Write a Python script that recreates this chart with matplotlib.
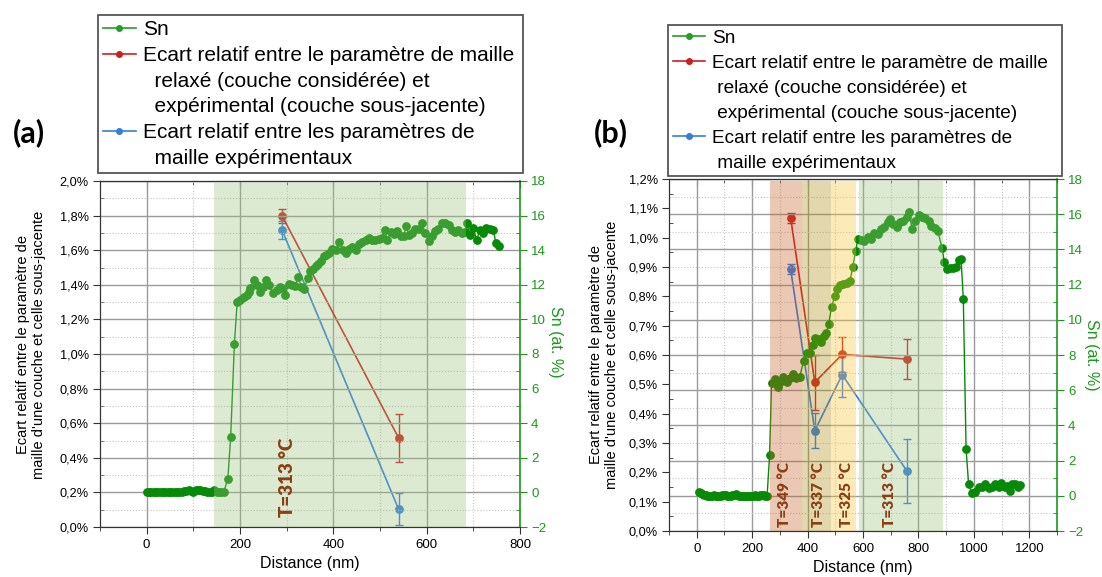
import matplotlib
matplotlib.use("Agg")
import matplotlib.pyplot as plt
from matplotlib.lines import Line2D
from matplotlib.ticker import MultipleLocator, FuncFormatter

plt.rcParams['font.family'] = ['Liberation Sans', 'DejaVu Sans']

# ---------------- data : panel (a) ----------------
sn_a_x = [0, 5, 10, 15, 20, 25, 30, 35, 40, 45, 50, 55, 60, 65, 70, 75, 80, 85,
          90, 95, 100, 105, 110, 115, 120, 125, 130, 135, 140, 145, 150, 155, 160, 165,
          174, 180, 188,
          194, 201, 208, 214, 219, 222, 229, 236, 242, 249, 256, 263, 270, 279, 286,
          291, 297, 304, 311, 318, 325, 331, 338, 345, 351, 356, 362, 368, 373, 379,
          385, 390, 397, 406, 413, 420, 427, 434, 441, 448, 455, 462, 469, 476, 483,
          490, 497, 504, 510, 516, 523, 530, 537, 544, 551, 556, 562, 569, 576, 583,
          590, 597, 604, 611, 618, 625, 633, 640, 647, 654, 661, 668, 675, 682, 686,
          693, 700, 707, 714, 721, 728, 736, 743, 748, 755]
sn_a_y = [0.02, 0.0, 0.03, 0.01, 0.02, 0.0, 0.02, 0.03, 0.01, 0.0, 0.02, 0.03, 0.02,
          0.05, 0.0, 0.03, 0.08, 0.1, 0.12, 0.1, 0.05, 0.12, 0.15, 0.12, 0.1, 0.08,
          0.05, 0.02, 0.0, 0.15, 0.05, 0.0, 0.02, 0.0,
          0.8, 3.2, 8.6,
          11.0, 11.15, 11.28, 11.43, 11.6, 11.8, 12.26, 12.0, 11.6, 11.9, 12.26, 12.0,
          11.5, 11.7, 11.9, 11.8, 11.4, 12.07, 12.0, 11.95, 12.45, 11.9, 11.76, 12.4,
          12.8, 12.9, 13.06, 13.2, 13.4, 13.67, 13.73, 13.83, 14.06, 14.0, 14.48, 14.0,
          13.83, 14.06, 14.17, 14.0, 14.36, 14.5, 14.6, 14.7, 14.6, 14.6, 14.67, 14.7,
          15.17, 14.6, 15.07, 14.94, 15.13, 14.82, 14.8, 15.4, 14.88, 15.0, 15.2, 15.2,
          15.55, 14.97, 14.55, 14.82, 15.13, 15.2, 15.6, 15.6, 15.45, 15.17, 15.07,
          15.17, 14.97, 15.07, 15.55, 14.86, 15.26, 14.6, 15.17, 15.0, 15.26, 15.2,
          15.17, 14.44, 14.25]

rel_a_x = [290, 540]
rel_a_y = [1.80, 0.514]
rel_a_err = [0.04, 0.14]
exp_a_x = [290, 540]
exp_a_y = [1.717, 0.102]
exp_a_err = [0.05, 0.093]

# ---------------- data : panel (b) ----------------
sn_b_x = [8, 14, 20, 26, 32, 38, 44, 50, 56, 62, 68, 74, 80, 86, 92, 98, 104, 110,
          116, 122, 128, 134, 140, 146, 152, 158, 164, 170, 176, 182, 188, 194, 200,
          206, 212, 218, 224, 230, 236, 242, 248, 254,
          263, 270, 281, 292, 301, 313, 325, 335, 347, 359, 371,
          386, 398, 408, 420, 428, 442, 450, 460, 468, 476, 487, 498, 507, 517, 529,
          541, 553, 563, 573, 582,
          593, 605, 617, 629, 641, 653, 665, 677, 689, 697, 709, 721, 733, 745, 757,
          767, 777, 789, 801, 813, 825, 837, 846, 858, 870, 885, 894, 902, 914, 926,
          935, 945, 954, 962,
          972, 981, 993, 1005, 1017, 1029, 1041, 1053, 1065, 1077, 1089, 1099, 1111,
          1120, 1130, 1139, 1149, 1159, 1168]
sn_b_y = [0.2, 0.15, 0.1, 0.05, 0.02, 0.0, 0.0, 0.0, 0.0, 0.02, 0.0, 0.0, 0.0, 0.0,
          0.05, 0.05, 0.02, 0.0, 0.0, 0.0, 0.02, 0.05, 0.08, 0.02, 0.0, 0.0, 0.0, 0.0,
          0.0, 0.0, 0.0, 0.0, 0.0, 0.0, 0.02, 0.0, 0.0, 0.05, 0.05, 0.02, 0.0, 0.0,
          2.32, 6.39, 6.61, 6.17, 6.49, 6.73, 6.49, 6.67, 6.92, 6.67, 6.73,
          7.67, 8.1, 8.13, 8.57, 8.98, 8.9, 8.75, 9.1, 9.23, 9.77, 10.75, 11.35, 11.73,
          11.98, 12.03, 12.1, 12.2, 13.0, 13.9, 14.6,
          14.55, 14.49, 14.68, 14.58, 14.96, 14.87, 15.15, 15.25, 15.53, 15.72, 15.44,
          15.29, 15.53, 15.63, 15.86, 16.1, 15.15, 15.63, 15.97, 15.86, 15.78, 15.59,
          15.34, 15.21, 15.06, 14.07, 13.26, 12.88, 12.93, 12.97, 13.0, 13.39, 13.43,
          11.17,
          2.64, 0.67, 0.14, 0.23, 0.52, 0.52, 0.67, 0.42, 0.52, 0.67, 0.52, 0.71, 0.48,
          0.56, 0.29, 0.67, 0.67, 0.48, 0.61]

rel_b_x = [339, 426, 525, 758]
rel_b_y = [1.067, 0.507, 0.602, 0.586]
rel_b_err = [0.017, 0.093, 0.06, 0.068]
exp_b_x = [339, 426, 525, 758]
exp_b_y = [0.892, 0.342, 0.533, 0.205]
exp_b_err = [0.017, 0.06, 0.075, 0.11]

# temperature zones: (start, end, label, label x)
zones_a = [(145, 684, "T=313 °C", 302)]
zones_b = [(263, 381, "T=349 °C", 317),
           (381, 486, "T=337 °C", 440),
           (486, 576, "T=325 °C", 540),
           (585, 889, "T=313 °C", 695)]
zone_colors_a = ["#9bc37e"]
zone_colors_b = ["#c6622a", "#af8d18", "#f9c634", "#9bc37e"]

SN_COLOR = "#078a07"
REL_COLOR = "#d01818"
EXP_COLOR = "#2a78e8"
AXIS_GREEN = "#1a9a1a"
T_COLOR = "#8b3e12"

legend_labels_a = ["Sn",
                   "Ecart relatif entre le paramètre de maille",
                   "  relaxé (couche considérée) et",
                   "  expérimental (couche sous-jacente)",
                   "Ecart relatif entre les paramètres de",
                   "  maille expérimentaux"]
legend_labels_b = ["Sn",
                   "Ecart relatif entre le paramètre de maille",
                   " relaxé (couche considérée) et",
                   " expérimental (couche sous-jacente)",
                   "Ecart relatif entre les paramètres de",
                   " maille expérimentaux"]

W, H = 1102, 577
fig = plt.figure(figsize=(W / 100, H / 100), dpi=100)


def px_rect(x0, y0, x1, y1):
    return [x0 / W, 1 - y1 / H, (x1 - x0) / W, (y1 - y0) / H]


def pct_fmt(v, p):
    return f"{v:.1f}%".replace(".", ",")


def build_panel(rect, xlim, ylim_pct, pct_major, pct_minor,
                sn_x, sn_y, rel, exp, zones, zcolors, tsize, tbottom):
    ax = fig.add_axes(rect)
    ax2 = ax.twinx()

    ax.set_xlim(*xlim)
    ax.set_ylim(*ylim_pct)
    ax2.set_ylim(-2, 18)

    # vertical grid on the host axes
    ax.xaxis.set_major_locator(MultipleLocator(200))
    ax.xaxis.set_minor_locator(MultipleLocator(100))
    ax.grid(axis='x', which='major', color='#9a9a9a', lw=1.0, ls='-')
    ax.grid(axis='x', which='minor', color='#c4c4c4', lw=0.8, ls=':')
    ax.set_axisbelow(True)

    # horizontal grid follows the Sn scale
    ax2.yaxis.set_major_locator(MultipleLocator(2))
    ax2.yaxis.set_minor_locator(MultipleLocator(1))
    ax2.grid(axis='y', which='major', color='#9a9a9a', lw=1.0, ls='-', zorder=0)
    ax2.grid(axis='y', which='minor', color='#c4c4c4', lw=0.8, ls=':', zorder=0)
    ax2.set_axisbelow(True)

    ax.yaxis.set_major_locator(MultipleLocator(pct_major))
    ax.yaxis.set_minor_locator(MultipleLocator(pct_minor))
    ax.yaxis.set_major_formatter(FuncFormatter(pct_fmt))

    # relative deviation series (left axis)
    for (xs, ys, es), col in zip([rel, exp], [REL_COLOR, EXP_COLOR]):
        ax.errorbar(xs, ys, yerr=es, color=col, ecolor=col, lw=1.2, elinewidth=1.0,
                    capsize=2.8, capthick=1.0, marker='o', ms=5.3, mec=col, mfc=col,
                    zorder=3)

    # Sn profile (right axis)
    ax2.plot(sn_x, sn_y, color=SN_COLOR, lw=1.0, marker='o', ms=5.3,
             mec=SN_COLOR, mfc=SN_COLOR, zorder=3)

    # temperature zones over the data
    for (x0, x1, lab, lx), c in zip(zones, zcolors):
        ax2.axvspan(x0, x1, ymin=0, ymax=0.995, color=c, alpha=0.35, lw=0, zorder=5)
        ax2.text(lx, tbottom, lab, rotation=90, ha='center', va='bottom',
                 color=T_COLOR, fontsize=tsize, fontweight='heavy',
                 family=['Lato', 'DejaVu Sans'], zorder=6)

    # spines & ticks
    for s in ['left', 'bottom', 'top']:
        ax.spines[s].set_color('#333333')
        ax2.spines[s].set_color('#333333')
    ax2.spines['right'].set_color(AXIS_GREEN)
    ax2.spines['right'].set_linewidth(1.2)
    ax.spines['right'].set_visible(False)

    ax.tick_params(axis='x', which='major', direction='out', length=5, labelsize=9.5,
                   color='#333333', pad=4)
    ax.tick_params(axis='x', which='minor', direction='out', length=3, color='#333333')
    ax.tick_params(axis='y', which='major', direction='out', length=5, labelsize=9.2,
                   color='#333333', pad=3)
    ax.tick_params(axis='y', which='minor', direction='in', length=3, color='#333333')
    ax2.tick_params(axis='y', which='major', direction='out', length=5, labelsize=9.5,
                    color=AXIS_GREEN, labelcolor=AXIS_GREEN, pad=3)
    ax2.tick_params(axis='y', which='minor', direction='in', length=3, color=AXIS_GREEN)

    top = ax.secondary_xaxis('top')
    top.xaxis.set_major_locator(MultipleLocator(200))
    top.xaxis.set_minor_locator(MultipleLocator(100))
    top.tick_params(axis='x', which='major', direction='in', length=5, labeltop=False,
                    color='#333333')
    top.tick_params(axis='x', which='minor', direction='in', length=3, color='#333333')
    top.spines['top'].set_color('#333333')

    ax.set_xlabel("Distance (nm)", fontsize=11.5, labelpad=3)
    return ax, ax2


# panel (a)
ax_a, ax2_a = build_panel(px_rect(100, 181, 520, 527), (-100, 800), (0, 2.0), 0.2, 0.1,
                          sn_a_x, sn_a_y,
                          (rel_a_x, rel_a_y, rel_a_err), (exp_a_x, exp_a_y, exp_a_err),
                          zones_a, zone_colors_a, 13.5, -1.45)
ax_a.set_xticks([0, 200, 400, 600, 800])

# panel (b)
ax_b, ax2_b = build_panel(px_rect(669, 179, 1057, 531), (-100, 1300), (0, 1.2), 0.1, 0.05,
                          sn_b_x, sn_b_y,
                          (rel_b_x, rel_b_y, rel_b_err), (exp_b_x, exp_b_y, exp_b_err),
                          zones_b, zone_colors_b, 11, -1.78)
ax_b.set_xticks([0, 200, 400, 600, 800, 1000, 1200])

# axis titles
ylab = "Ecart relatif entre le paramètre de\nmaille d'une couche et celle sous-jacente"
fig.text(31 / W, 1 - 345 / H, ylab, rotation=90, ha='center', va='center',
         fontsize=10.5, multialignment='center')
fig.text(604 / W, 1 - 355 / H, ylab, rotation=90, ha='center', va='center',
         fontsize=10.5, multialignment='center')
fig.text(556 / W, 1 - 342 / H, "Sn (at. %)", rotation=270, ha='center', va='center',
         fontsize=11.5, color=AXIS_GREEN)
fig.text(1092 / W, 1 - 355 / H, "Sn (at. %)", rotation=270, ha='center', va='center',
         fontsize=11.5, color=AXIS_GREEN)

# panel tags
fig.text(13 / W, 1 - 133 / H, "(a)", ha='left', va='center', fontsize=22,
         fontweight='bold', family=['Lato', 'DejaVu Sans'])
fig.text(594 / W, 1 - 133 / H, "(b)", ha='left', va='center', fontsize=22,
         fontweight='bold', family=['Lato', 'DejaVu Sans'])


# legends
def legend_handles():
    blank = Line2D([], [], color='none')
    return [Line2D([], [], color="#22a022", marker='o', ms=4, lw=1.2),
            Line2D([], [], color="#cc1f1f", marker='o', ms=4, lw=1.2),
            blank, blank,
            Line2D([], [], color="#2f7fe0", marker='o', ms=4, lw=1.2),
            blank]


leg_a = fig.legend(legend_handles(), legend_labels_a, loc='upper left',
                   bbox_to_anchor=(98 / W, 1 - 15 / H - 0.01, 425 / W, 0.01),
                   mode='expand', fontsize=15, frameon=True, fancybox=False,
                   edgecolor='#555555', framealpha=1, handlelength=1.55,
                   handletextpad=0.35, labelspacing=0.32, borderpad=0.25,
                   borderaxespad=0)
leg_a.get_frame().set_linewidth(1.3)

leg_b = fig.legend(legend_handles(), legend_labels_b, loc='upper left',
                   bbox_to_anchor=(668 / W, 1 - 25 / H - 0.01, 394 / W, 0.01),
                   mode='expand', fontsize=13.7, frameon=True, fancybox=False,
                   edgecolor='#555555', framealpha=1, handlelength=1.7,
                   handletextpad=0.35, labelspacing=0.4, borderpad=0.25,
                   borderaxespad=0)
leg_b.get_frame().set_linewidth(1.3)

fig.savefig("out.png", dpi=100)
